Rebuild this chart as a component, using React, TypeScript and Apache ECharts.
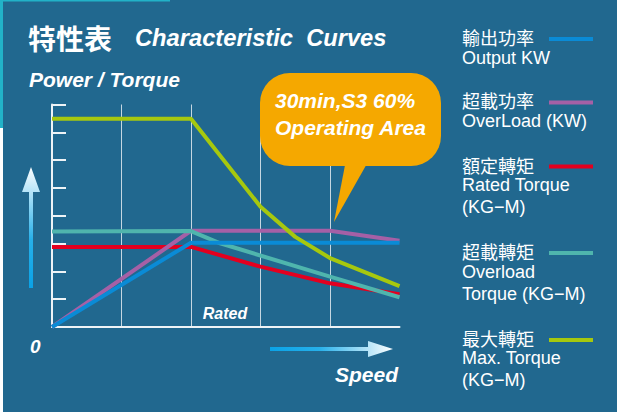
import React, { useEffect, useRef } from "react";
import * as echarts from "echarts";

// ---- data ----
const speedTicks = [0, 1, 2, 3, 4, 5];
const outputKW = [[0, 0], [2, 3.03], [5, 3.03]];
const overloadKW = [[0, 0], [2, 3.46], [4, 3.46], [5, 3.1]];
const ratedTorque = [[0, 2.88], [2, 2.88], [3, 2.17], [4, 1.57], [5, 1.18]];
const overloadTorque = [[0, 3.43], [2, 3.45], [2.42, 3.01], [4, 1.81], [5, 1.07]];
const maxTorque = [[0, 7.49], [2, 7.49], [3, 4.32], [3.5, 3.24], [4, 2.48], [5, 1.47]];

const seriesNames = ["輸出功率", "超載功率", "額定轉矩", "超載轉矩", "最大轉矩"];
const legendEnglish = [
  ["Output KW"],
  ["OverLoad (KW)"],
  ["Rated Torque", "(KG−M)"],
  ["Overload", "Torque (KG−M)"],
  ["Max. Torque", "(KG−M)"],
];
const colors = ["#0a8bd6", "#a560a6", "#e3001f", "#4fb5ad", "#a6c80e"];

const LATIN = "'Liberation Sans', Arial, Helvetica, sans-serif";
const CJK = "'Noto Sans CJK TC', 'Noto Sans CJK SC', sans-serif";

export default function App() {
  const ref = useRef<HTMLDivElement>(null);
  useEffect(() => {
    if (!ref.current) return;
    const chart = echarts.init(ref.current, undefined, { renderer: "svg" });

    const allData = [outputKW, overloadKW, ratedTorque, overloadTorque, maxTorque];
    const drawOrder = [2, 1, 3, 0, 4];

    const legendCn = [36.5, 100, 164.5, 250.5, 337.5];
    const legendLine = [39, 102.5, 166.5, 253, 340];
    const legendEn = [[58], [121], [185, 206.5], [271.5, 293.5], [358, 380]];

    const graphics: any[] = [];
    // frame strips
    graphics.push({ type: "rect", shape: { x: 0, y: 0, width: 170, height: 1.5 }, style: { fill: "#22b2c8" }, z: 50 });
    graphics.push({ type: "rect", shape: { x: 0, y: 0, width: 3, height: 128 }, style: { fill: "#22b2c8" }, z: 50 });
    graphics.push({ type: "rect", shape: { x: 0, y: 128, width: 3, height: 300 }, style: { fill: "#ffffff" }, z: 50 });
    graphics.push({ type: "rect", shape: { x: 0, y: 412, width: 617, height: 4 }, style: { fill: "#ffffff" }, z: 50 });

    // titles
    graphics.push({ type: "text", x: 28, y: 38, z: 50, style: { text: "特性表", fill: "#fff", font: `bold 28px ${CJK}`, textVerticalAlign: "middle" } });
    graphics.push({ type: "text", x: 135, y: 38, z: 50, style: { text: "Characteristic  Curves", fill: "#fff", font: `italic bold 23.7px ${LATIN}`, textVerticalAlign: "middle" } });
    graphics.push({ type: "text", x: 29, y: 79, z: 50, style: { text: "Power / Torque", fill: "#fff", font: `italic bold 21px ${LATIN}`, textVerticalAlign: "middle" } });
    graphics.push({ type: "text", x: 225, y: 313, z: 50, style: { text: "Rated", fill: "#fff", font: `italic bold 16px ${LATIN}`, textAlign: "center", textVerticalAlign: "middle" } });
    graphics.push({ type: "text", x: 30, y: 346, z: 50, style: { text: "0", fill: "#fff", font: `italic bold 19px ${LATIN}`, textVerticalAlign: "middle" } });
    graphics.push({ type: "text", x: 398, y: 374, z: 50, style: { text: "Speed", fill: "#fff", font: `italic bold 21px ${LATIN}`, textAlign: "right", textVerticalAlign: "middle" } });

    // arrows
    graphics.push({
      type: "polygon", z: 50,
      shape: { points: [[29, 288], [33, 288], [33, 192], [40, 192], [31, 167], [22, 192], [29, 192]] },
      style: {
        fill: new echarts.graphic.LinearGradient(0, 1, 0, 0, [
          { offset: 0, color: "#0aa2e6" },
          { offset: 0.4, color: "#27b0ea" },
          { offset: 1, color: "#ffffff" },
        ]),
      },
    });
    graphics.push({
      type: "polygon", z: 50,
      shape: { points: [[270, 347], [368, 347], [368, 341], [393, 349], [368, 357], [368, 351], [270, 351]] },
      style: {
        fill: new echarts.graphic.LinearGradient(0, 0, 1, 0, [
          { offset: 0, color: "#0aa2e6" },
          { offset: 0.4, color: "#27b0ea" },
          { offset: 1, color: "#ffffff" },
        ]),
      },
    });

    // bubble
    graphics.push({ type: "rect", z: 100, shape: { x: 260, y: 73, width: 181, height: 93, r: 30 }, style: { fill: "#f5a800" } });
    graphics.push({ type: "polygon", z: 100, shape: { points: [[346, 160], [369, 160], [334, 222]] }, style: { fill: "#f5a800" } });
    graphics.push({ type: "text", z: 101, x: 275, y: 100, style: { text: "30min,S3 60%", fill: "#fff", font: `italic bold 21px ${LATIN}`, textVerticalAlign: "middle" } });
    graphics.push({ type: "text", z: 101, x: 275, y: 127, style: { text: "Operating Area", fill: "#fff", font: `italic bold 21px ${LATIN}`, textVerticalAlign: "middle" } });

    // legend
    seriesNames.forEach((name, i) => {
      graphics.push({ type: "text", z: 50, x: 462, y: legendCn[i], style: { text: name, fill: "#fff", font: `18px ${CJK}`, lineHeight: 18, textVerticalAlign: "middle" } });
      graphics.push({ type: "line", z: 50, shape: { x1: 549, y1: legendLine[i], x2: 593, y2: legendLine[i] }, style: { stroke: colors[i], lineWidth: 4 } });
      legendEnglish[i].forEach((t, j) => {
        graphics.push({ type: "text", z: 50, x: 462, y: legendEn[i][j], style: { text: t, fill: "#fff", font: `18px ${LATIN}`, lineHeight: 18, textVerticalAlign: "middle" } });
      });
    });

    chart.setOption({
      animation: false,
      backgroundColor: "#21688f",
      grid: { left: 52, right: 217.5, top: 104.5, bottom: 87, containLabel: false },
      xAxis: {
        type: "value",
        min: speedTicks[0],
        max: speedTicks[speedTicks.length - 1],
        interval: 1,
        axisLine: { show: true, lineStyle: { color: "#eef3f6", width: 2 } },
        axisTick: { show: false },
        axisLabel: { show: false },
        splitLine: { show: true, showMinLine: false, showMaxLine: false, lineStyle: { color: "#c6d7e1", width: 1, type: "solid" } },
      },
      yAxis: {
        type: "value",
        min: 0,
        max: 8,
        interval: 1,
        axisLine: { show: true, lineStyle: { color: "#eef3f6", width: 2 } },
        axisTick: { show: true, inside: true, length: 14, lineStyle: { color: "#eef3f6", width: 2 } },
        axisLabel: { show: false },
        splitLine: { show: false },
      },
      series: drawOrder.map((i) => ({
        name: seriesNames[i],
        type: "line",
        data: allData[i],
        symbol: "none",
        showSymbol: false,
        lineStyle: { color: colors[i], width: 4 },
        z: 3 + drawOrder.indexOf(i),
      })),
      graphic: graphics,
    });
    return () => chart.dispose();
  }, []);
  return (
    <div
      ref={ref}
      style={{ position: "fixed", left: 0, top: 0, width: 617, height: 414, background: "#fff" }}
    />
  );
}
